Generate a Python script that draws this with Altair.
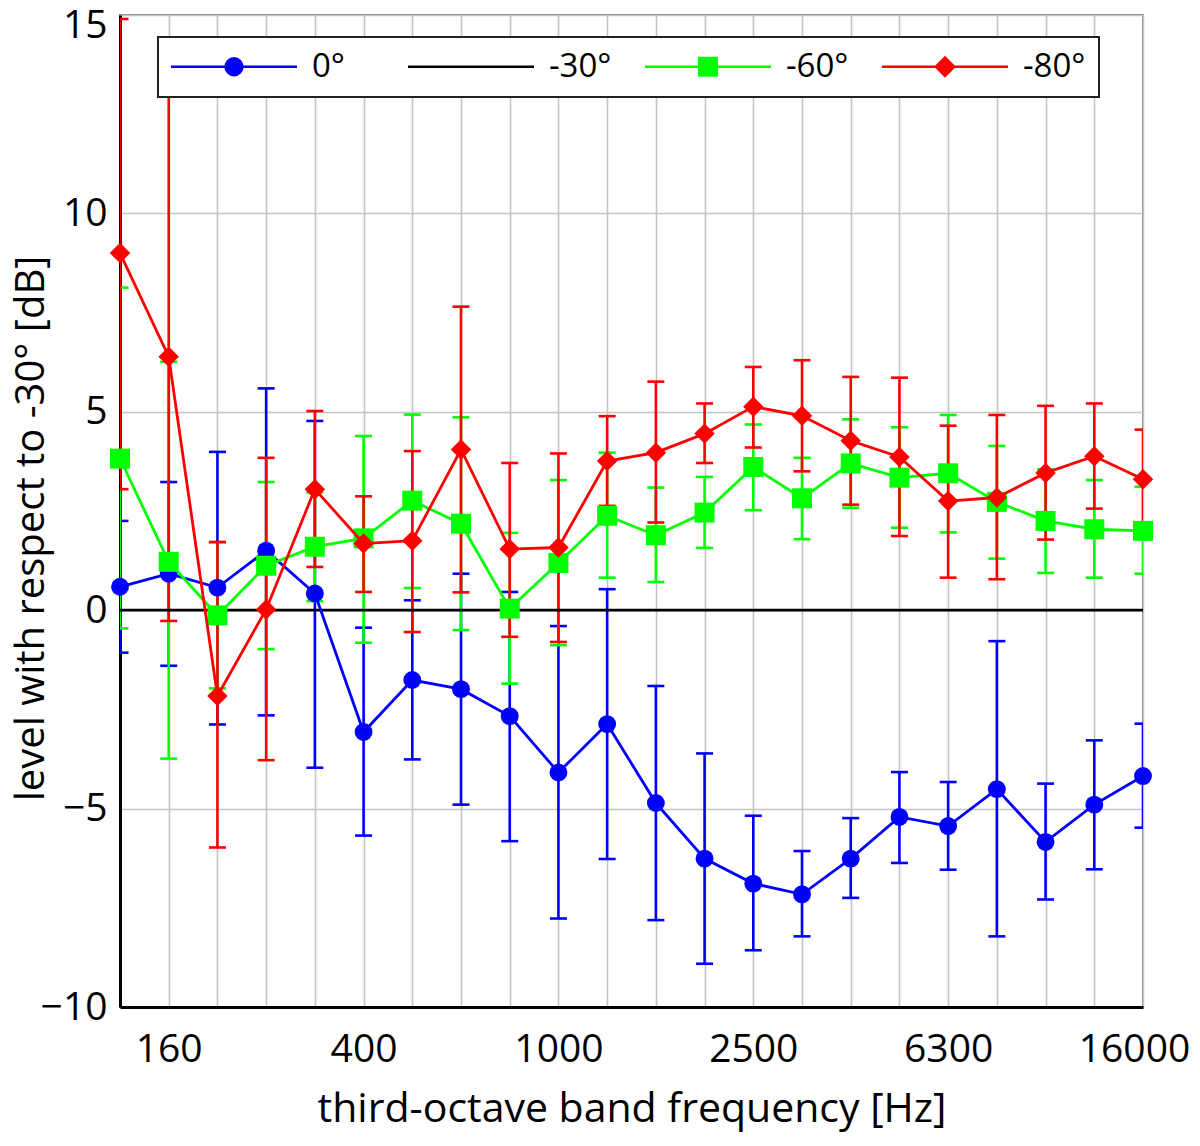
import altair as alt
import pandas as pd

# third-octave band centre frequencies (Hz)
freqs = [125, 160, 200, 250, 315, 400, 500, 630, 800, 1000, 1250, 1600,
         2000, 2500, 3150, 4000, 5000, 6300, 8000, 10000, 12500, 16000]
tick_labels = ["160", "400", "1000", "2500", "6300", "16000"]

series_names = ["0°", "-30°", "-60°", "-80°"]
series_colors = ["#0000ff", "#000000", "#00ff00", "#ff0000"]

# 0° (blue)
level_0 = [0.59, 0.92, 0.57, 1.50, 0.42, -3.07, -1.76, -1.99, -2.67, -4.09, -2.87,
           -4.86, -6.26, -6.89, -7.16, -6.26, -5.21, -5.44, -4.51, -5.84, -4.90, -4.18]
upper_0 = [2.25, 3.23, 3.99, 5.59, 4.77, -0.44, 0.25, 0.92, 0.46, -0.40, 0.53,
           -1.91, -3.61, -5.18, -6.07, -5.24, -4.08, -4.33, -0.78, -4.37, -3.28, -2.86]
lower_0 = [-1.07, -1.40, -2.88, -2.65, -3.97, -5.68, -3.76, -4.90, -5.82, -7.77, -6.27,
           -7.81, -8.91, -8.57, -8.22, -7.25, -6.37, -6.54, -8.22, -7.29, -6.53, -5.48]

# -30° (reference, black)
level_30 = [0, 0, 0, 0, 0, 0, 0, 0, 0, 0, 0, 0, 0, 0, 0, 0, 0, 0, 0, 0, 0, 0]

# -60° (green)
level_60 = [3.82, 1.22, -0.13, 1.12, 1.60, 1.81, 2.76, 2.18, 0.04, 1.19, 2.38,
            1.89, 2.46, 3.61, 2.82, 3.70, 3.34, 3.45, 2.73, 2.25, 2.04, 2.00]
upper_60 = [8.13, 6.26, 1.71, 3.23, 2.97, 4.39, 4.93, 4.86, 1.95, 3.28, 3.97,
            3.09, 3.36, 4.68, 3.84, 4.81, 4.61, 4.92, 4.14, 3.55, 3.28, 3.11]
lower_60 = [-0.46, -3.74, -1.97, -0.98, 0.23, -0.82, 0.56, -0.50, -1.85, -0.88, 0.82,
            0.71, 1.57, 2.52, 1.79, 2.58, 2.08, 1.96, 1.30, 0.94, 0.82, 0.92]

# -80° (red)
level_80 = [9.00, 6.39, -2.16, 0.02, 3.05, 1.68, 1.75, 4.05, 1.54, 1.58, 3.76,
            3.97, 4.45, 5.13, 4.90, 4.27, 3.86, 2.75, 2.84, 3.46, 3.88, 3.30]
upper_80 = [14.90, 13.05, 1.72, 3.84, 5.02, 2.87, 4.01, 7.65, 3.71, 3.95, 4.89,
            5.76, 5.21, 6.13, 6.30, 5.88, 5.86, 4.65, 4.92, 5.15, 5.21, 4.55]
lower_80 = [3.05, -0.27, -5.98, -3.78, 1.09, 0.46, -0.55, 0.45, -0.67, -0.80, 2.63,
            2.21, 3.71, 4.10, 3.50, 2.66, 1.87, 0.82, 0.78, 1.78, 2.56, 2.05]

# ---------------------------------------------------------------- tables
def make_df(name, lev, lo, hi):
    return pd.DataFrame({"idx": list(range(len(freqs))), "freq": freqs,
                         "series": name, "level": lev, "lo": lo, "hi": hi})


series_data = [
    ("0°", make_df("0°", level_0, lower_0, upper_0), "#0000ff", "circle", 320),
    ("-60°", make_df("-60°", level_60, lower_60, upper_60), "#00ff00", "square", 400),
    ("-80°", make_df("-80°", level_80, lower_80, upper_80), "#ff0000", "diamond", 420),
]
ref_df = pd.DataFrame({"idx": list(range(len(freqs))), "freq": freqs,
                       "level": level_30, "series": "-30°"})

# ---------------------------------------------------------------- axes
FONT = "Open Sans"
label_list = [str(f) if str(f) in tick_labels else "" for f in freqs]
label_expr = "[" + ",".join("'%s'" % s for s in label_list) + "][datum.value]"
last_idx = len(freqs) - 1

x_scale = alt.Scale(domain=[0, last_idx], nice=False, zero=False)
y_scale = alt.Scale(domain=[-10, 15], nice=False, zero=False)

x_axis = alt.Axis(values=list(range(len(freqs))), labelExpr=label_expr,
                  title="third-octave band frequency [Hz]",
                  grid=True, gridColor="#c4c4c4", gridWidth=1.6,
                  ticks=False, tickSize=0, domainColor="#000000", domainWidth=3,
                  labelFont=FONT, labelFontSize=39, labelColor="#000000",
                  labelPadding=23, labelFlush=False, labelOverlap=False,
                  labelOffset={"condition": {"test": "datum.value == %d" % last_idx,
                                             "value": -9}, "value": 0},
                  titleFont=FONT, titleFontSize=41, titleFontWeight="normal",
                  titleColor="#000000", titleY=114, titleBaseline="alphabetic")
y_axis = alt.Axis(values=[-10, -5, 0, 5, 10, 15],
                  title="level with respect to -30° [dB]",
                  grid=True, gridColor="#c4c4c4", gridWidth=1.6,
                  ticks=False, tickSize=0, domainColor="#000000", domainWidth=3,
                  labelFont=FONT, labelFontSize=39, labelColor="#000000",
                  labelPadding=13, labelFlush=False, labelOverlap=False,
                  labelOffset={"condition": {"test": "datum.value == 15", "value": 10},
                               "value": 0},
                  titleFont=FONT, titleFontSize=40, titleFontWeight="normal",
                  titleColor="#000000", titleX=-77, titleY=513,
                  titleAlign="center", titleBaseline="alphabetic")


def X():
    return alt.X("idx:Q", scale=x_scale, axis=x_axis)


def Y(field):
    return alt.Y(field + ":Q", scale=y_scale, axis=y_axis)


# ---------------------------------------------------------------- layers
layers = []
# error bars (all series, below the lines and markers)
for name, df, col, shp, sz in series_data:
    layers.append(alt.Chart(df).mark_rule(strokeWidth=2.6, clip=True, color=col).encode(
        x=X(), y=Y("lo"), y2="hi"))
    for fld in ["hi", "lo"]:
        layers.append(alt.Chart(df).mark_tick(orient="horizontal", size=17, thickness=2.6,
                                              clip=True, opacity=1, color=col).encode(
            x=X(), y=Y(fld)))

# -30° reference line
layers.append(alt.Chart(ref_df).mark_line(strokeWidth=2.8, color="#000000").encode(
    x=X(), y=Y("level")))

# series lines + markers
for name, df, col, shp, sz in series_data:
    layers.append(alt.Chart(df).mark_line(strokeWidth=2.8, color=col).encode(
        x=X(), y=Y("level")))
    layers.append(alt.Chart(df).mark_point(shape=shp, size=sz, filled=True, opacity=1,
                                           color=col).encode(
        x=X(), y=Y("level")))

# legend: line + marker symbols drawn through custom shape paths
legend_paths = [
    "M-5.25,0H5.25M-0.7,0A0.7,0.7,0,1,1,0.7,0A0.7,0.7,0,1,1,-0.7,0Z",
    "M-5.25,0H5.25",
    "M-5.25,0H5.25M-0.72,-0.72H0.72V0.72H-0.72Z",
    "M-5.25,0H5.25M0,-0.76L0.76,0L0,0.76L-0.76,0Z",
]
leg = alt.Legend(title=None, orient="none", legendX=38, legendY=22,
                 direction="horizontal", gridAlign="all", columnPadding=27,
                 padding=13, fillColor="#ffffff", strokeColor="#222222",
                 cornerRadius=0, symbolSize=576, symbolStrokeWidth=2.6,
                 symbolOffset=46.5, labelOffset=61.5, symbolOpacity=1,
                 labelFont=FONT, labelFontSize=33, labelColor="#000000",
                 zindex=1)
legend_layer = alt.Chart(ref_df).transform_filter("false").mark_point(
    filled=True, opacity=1).encode(
    color=alt.Color("series:N", scale=alt.Scale(domain=series_names, range=series_colors),
                    legend=leg),
    stroke=alt.Stroke("series:N", scale=alt.Scale(domain=series_names, range=series_colors),
                      legend=leg),
    shape=alt.Shape("series:N", scale=alt.Scale(domain=series_names, range=legend_paths),
                    legend=leg),
)
layers.append(legend_layer)

chart = alt.layer(*layers).properties(
    width=1023, height=992,
    autosize=alt.AutoSizeParams(type="none"),
    padding={"left": 112, "top": 7, "right": 49, "bottom": 125},
).configure(font=FONT).configure_view(
    stroke="#8a8a8a", strokeWidth=2
).configure_legend(strokeWidth=2)

chart.save("out.html", embed_options={"renderer": "svg", "actions": False})
